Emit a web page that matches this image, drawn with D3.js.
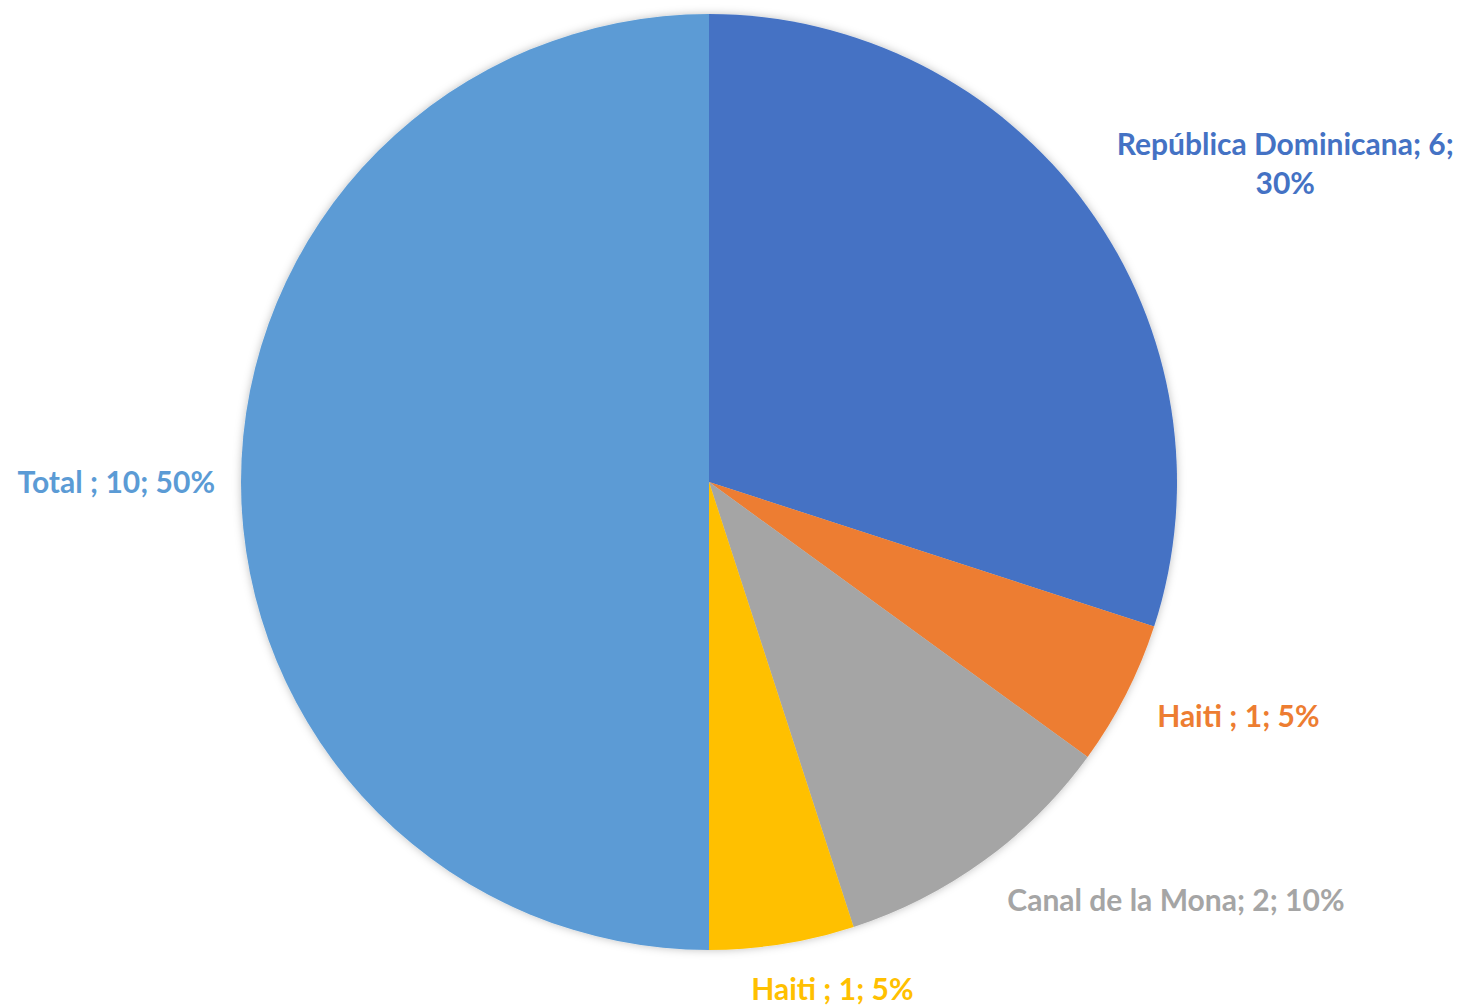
<!DOCTYPE html>
<html>
<head>
<meta charset="utf-8">
<script src="https://cdn.jsdelivr.net/npm/d3@7"></script>
<style>
  html, body { margin: 0; padding: 0; background: #fff; }
  svg { display: block; }
  .label { font-family: Lato, "Open Sans", sans-serif; font-weight: 700; font-size: 30px; }
</style>
</head>
<body>
<svg id="chart"></svg>
<script>
// chart data
const categories = ["República Dominicana", "Haiti ", "Canal de la Mona", "Haiti ", "Total "];
const values = [6, 1, 2, 1, 10];
const colors = ["#4472C4", "#ED7D31", "#A5A5A5", "#FFC000", "#5B9BD5"];

const width = 1466, height = 1007;
const cx = 709, cy = 482, radius = 468;

const svg = d3.select("#chart")
  .attr("width", width)
  .attr("height", height);

// soft shadow like the office style
const defs = svg.append("defs");
const f = defs.append("filter").attr("id", "shadow")
  .attr("x", "-10%").attr("y", "-10%").attr("width", "120%").attr("height", "120%");
f.append("feDropShadow")
  .attr("dx", 0).attr("dy", 0).attr("stdDeviation", 4)
  .attr("flood-color", "#000").attr("flood-opacity", 0.25);

const total = d3.sum(values);
const data = categories.map((c, i) => ({ name: c, value: values[i], color: colors[i] }));

const pie = d3.pie().sort(null).value(d => d.value);
const arcs = pie(data);

const arc = d3.arc().innerRadius(0).outerRadius(radius);

const g = svg.append("g").attr("transform", `translate(${cx},${cy})`);

g.append("g").attr("filter", "url(#shadow)")
  .selectAll("path")
  .data(arcs)
  .join("path")
  .attr("d", arc)
  .attr("fill", d => d.data.color);

// labels, outside end
const fmt = d3.format(".0%");
const maxWidth = 370;
const lineH = 39;
const gap = 26;

arcs.forEach(d => {
  const txt = `${d.data.name}; ${d.data.value}; ${fmt(d.data.value / total)}`;
  const t = g.append("text")
    .attr("class", "label")
    .attr("fill", d.data.color)
    .attr("text-anchor", "middle");

  // word wrap
  const words = txt.split(" ");
  const lines = [];
  let cur = "";
  words.forEach(w => {
    const test = cur ? cur + " " + w : w;
    t.text(test);
    if (t.node().getComputedTextLength() > maxWidth && cur) {
      lines.push(cur);
      cur = w;
    } else {
      cur = test;
    }
  });
  lines.push(cur);
  t.text(null);

  let w = 0;
  lines.forEach(l => {
    t.text(l);
    w = Math.max(w, t.node().getComputedTextLength());
  });
  t.text(null);
  const h = lines.length * lineH;

  const a = (d.startAngle + d.endAngle) / 2;
  const sin = Math.sin(a), cos = Math.cos(a);
  const px = (radius + gap) * sin + (sin > 0.1 ? 8 : 0);
  const py = -(radius + gap) * cos;
  const kx = Math.max(-1, Math.min(1, sin * 3));
  const ky = Math.max(-1, Math.min(1, cos * 1.2));
  const bx = px + kx * w / 2;
  const by = py - ky * h / 2;

  lines.forEach((l, i) => {
    t.append("tspan")
      .attr("x", bx)
      .attr("y", by - h / 2 + lineH * i + lineH / 2)
      .attr("dy", "0.35em")
      .text(l);
  });
});
</script>
</body>
</html>
